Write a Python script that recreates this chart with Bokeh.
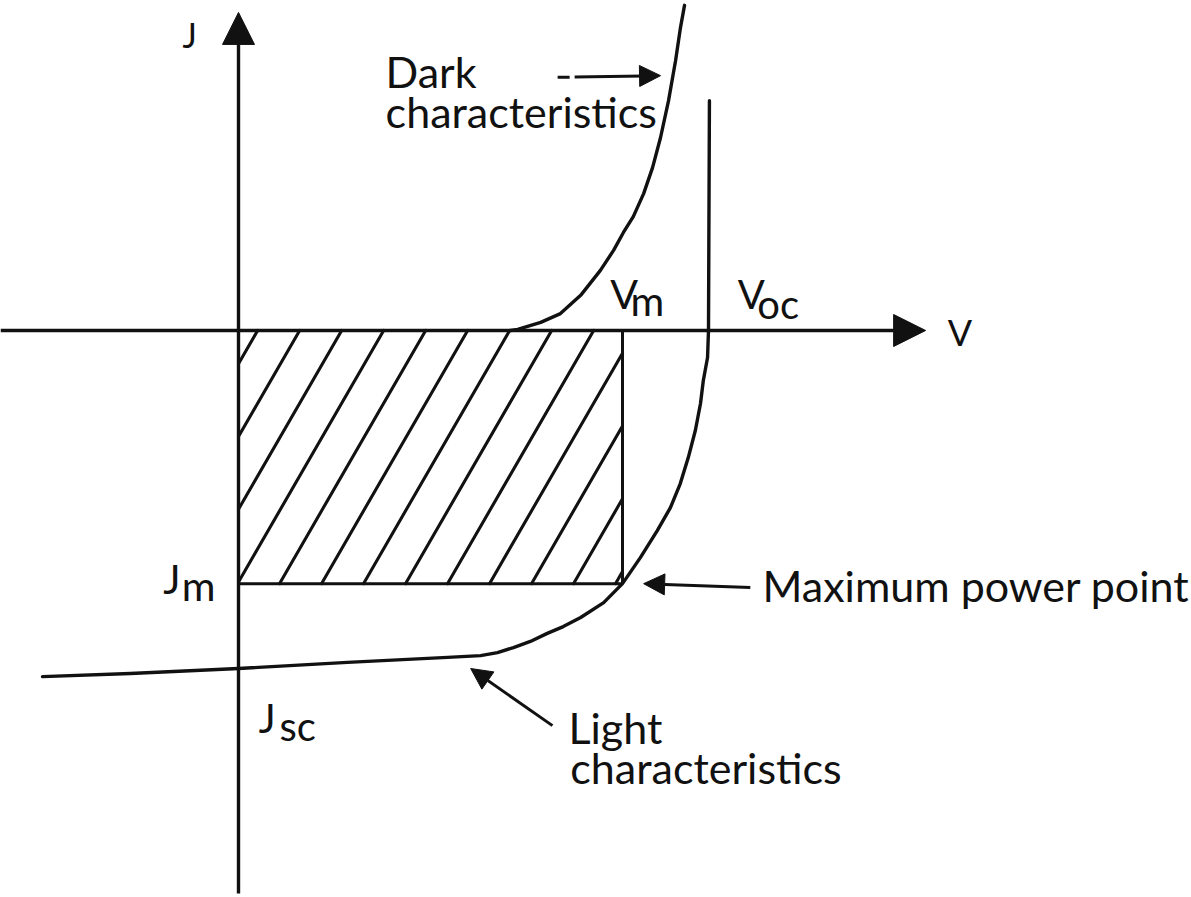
import math

from bokeh.plotting import figure
from bokeh.models import Range1d, Arrow, NormalHead, Label
from bokeh.embed import file_html
from bokeh.resources import INLINE

W, H = 1191, 897

# Normalised J-V coordinates: voltage in units of V_oc, current density in units of |J_sc|
V_OC = 1.0
J_SC = -1.0
V_M = 0.817
J_M = -0.749

# Illuminated ("light") characteristic
light_v = [-0.417, -0.230, 0.000, 0.232, 0.445, 0.515, 0.551, 0.585, 0.621, 0.657,
           0.691, 0.728, 0.777, 0.817, 0.855, 0.891, 0.919, 0.940, 0.957, 0.972,
           0.983, 0.989, 0.998, 1.000, 1.002]
light_j = [-1.024, -1.015, -1.000, -0.982, -0.967, -0.962, -0.953, -0.938, -0.920, -0.896,
           -0.876, -0.849, -0.805, -0.749, -0.672, -0.592, -0.524, -0.453, -0.376, -0.296,
           -0.216, -0.148, -0.080, 0.000, 0.680]

# Dark characteristic
dark_v = [0.579, 0.594, 0.643, 0.685, 0.728, 0.770, 0.798, 0.819, 0.840, 0.862,
          0.881, 0.898, 0.915, 0.930, 0.940, 0.949]
dark_j = [0.000, 0.003, 0.024, 0.050, 0.104, 0.178, 0.237, 0.290, 0.337, 0.405,
          0.482, 0.571, 0.680, 0.799, 0.893, 0.962]

# Visible window
V_MIN, V_MAX = -0.5064, 2.0277
J_MIN, J_MAX = -1.6775, 0.9763
PX_V = W / (V_MAX - V_MIN)   # pixels per unit of V
PX_J = H / (J_MAX - J_MIN)   # pixels per unit of J

# Axis extents
V_AXIS = (V_MIN, 1.462)
J_AXIS = (-1.666, 0.941)

INK = "#111111"
FONT = "Lato"
LW = 3.4

p = figure(width=W, height=H, x_range=Range1d(V_MIN, V_MAX), y_range=Range1d(J_MIN, J_MAX),
           x_axis_type=None, y_axis_type=None, output_backend="svg",
           toolbar_location=None, min_border=0)
p.outline_line_color = None
p.background_fill_color = "white"
p.border_fill_color = "white"

# Hatched power rectangle V_m x J_m (60 degree hatch lines clipped to the rectangle)
HATCH_STEP_PX = 42
HATCH_START_PX = -127
rise_px = (0 - J_M) * PX_J
dv = rise_px / math.tan(math.radians(60)) / PX_V
hx, hy = [], []
for k in range(14):
    vb = (HATCH_START_PX + k * HATCH_STEP_PX) / PX_V
    t0 = max(0.0, (0.0 - vb) / dv)
    t1 = min(1.0, (V_M - vb) / dv)
    if t1 > t0:
        hx.append([vb + t0 * dv, vb + t1 * dv])
        hy.append([J_M + t0 * (0 - J_M), J_M + t1 * (0 - J_M)])
p.multi_line(hx, hy, line_color=INK, line_width=3.1, line_cap="round")

# Rectangle edges at V_m and J_m
p.segment(x0=[V_M, 0.0], y0=[0.0, J_M], x1=[V_M, V_M], y1=[J_M, J_M],
          line_color=INK, line_width=3.0)

# Characteristics
p.line(light_v, light_j, line_color=INK, line_width=LW, line_join="round", line_cap="round")
p.line(dark_v, dark_j, line_color=INK, line_width=LW, line_join="round", line_cap="round")

# Axes with arrow heads
p.add_layout(Arrow(x_start=V_AXIS[0], y_start=0, x_end=V_AXIS[1], y_end=0,
                   line_color=INK, line_width=LW,
                   end=NormalHead(size=32, fill_color=INK, line_color=INK, line_width=1)))
p.add_layout(Arrow(x_start=0, y_start=J_AXIS[0], x_end=0, y_end=J_AXIS[1],
                   line_color=INK, line_width=LW,
                   end=NormalHead(size=32, fill_color=INK, line_color=INK, line_width=1)))

# Pointer arrows
def pointer(x0, y0, x1, y1, dash="solid"):
    p.add_layout(Arrow(x_start=x0, y_start=y0, x_end=x1, y_end=y1,
                       line_color=INK, line_width=3.0, line_dash=dash,
                       end=NormalHead(size=21, fill_color=INK, line_color=INK, line_width=1)))

pointer(0.679, 0.749, 0.898, 0.754, dash="12 5 1000")
pointer(1.089, -0.760, 0.862, -0.749)
pointer(0.668, -1.169, 0.494, -1.000)

# Texts; the baseline is lifted slightly so that it lands where the letters sit
def label(x, y, text, size=43):
    lift = 0.36 * size / PX_J
    p.add_layout(Label(x=x, y=y + lift, text=text, text_font=FONT,
                       text_font_size=f"{size}px", text_color=INK,
                       text_align="left", text_baseline="alphabetic"))

label(-0.119, 0.840, "J", 34)
label(1.509, -0.044, "V", 36)
label(0.313, 0.719, "Dark")
label(0.313, 0.601, "characteristics")
label(0.702, -1.219, "Light")
label(0.706, -1.340, "characteristics")
label(1.115, -0.799, "Maximum power point")

# Symbols with subscripts
label(0.791, 0.065, "V", 41)
label(0.834, 0.044, "m", 41)
label(1.062, 0.065, "V", 40)
label(1.104, 0.036, "oc", 40)
label(-0.160, -0.778, "J", 41)
label(-0.121, -0.799, "m", 41)
label(0.043, -1.189, "J", 40)
label(0.087, -1.213, "sc", 40)

open("out.html", "w").write(file_html(p, INLINE))
